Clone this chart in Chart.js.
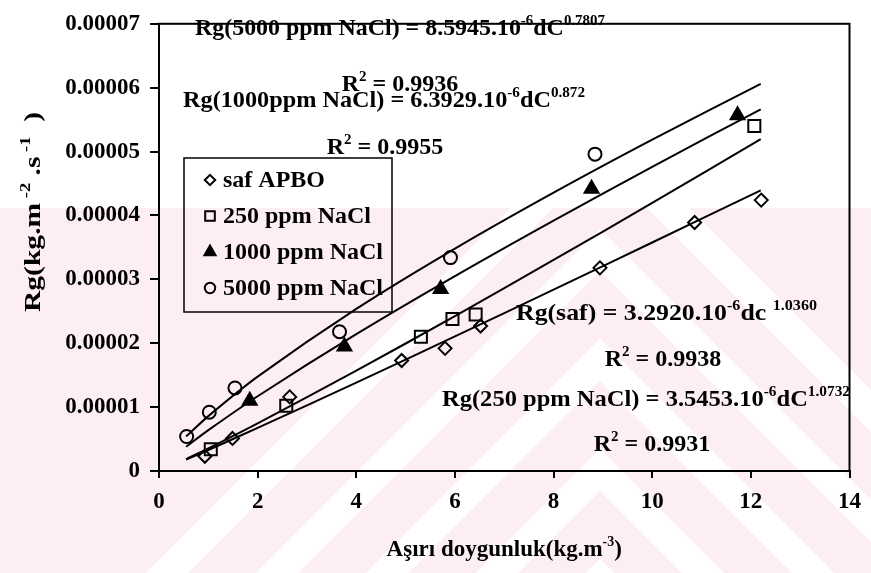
<!DOCTYPE html>
<html>
<head>
<meta charset="utf-8">
<script src="https://cdn.jsdelivr.net/npm/chart.js@4.4.1/dist/chart.umd.min.js"></script>
<style>
  html, body { margin: 0; padding: 0; background: #fff; }
  #wrap { width: 871px; height: 573px; position: relative; }
</style>
</head>
<body>
<div id="wrap"><canvas id="grafik"></canvas></div>
<script>
// olculen noktalar (okunan degerler)
const safX = [0.93, 1.49, 2.65, 4.92, 5.80, 6.52, 8.94, 10.86, 12.21];
const safY = [2.3e-6, 5.1e-6, 1.16e-5, 1.73e-5, 1.92e-5, 2.27e-5, 3.18e-5, 3.89e-5, 4.24e-5];
const p250X = [1.05, 2.58, 5.31, 5.95, 6.42, 12.07];
const p250Y = [3.4e-6, 1.02e-5, 2.10e-5, 2.38e-5, 2.45e-5, 5.40e-5];
const p1000X = [1.84, 3.76, 5.71, 8.77, 11.73];
const p1000Y = [1.10e-5, 1.95e-5, 2.85e-5, 4.42e-5, 5.57e-5];
const p5000X = [0.56, 1.02, 1.54, 3.66, 5.91, 8.84];
const p5000Y = [5.4e-6, 9.2e-6, 1.30e-5, 2.18e-5, 3.34e-5, 4.96e-5];

// egri uydurma cizgileri
const fitX = [0.55, 1, 2, 4, 6, 8, 10, 12.2];
const fit5000 = [5.39e-6, 8.59e-6, 1.477e-5, 2.537e-5, 3.481e-5, 4.357e-5, 5.187e-5, 6.06e-5];
const fit1000 = [3.80e-6, 6.39e-6, 1.170e-5, 2.141e-5, 3.050e-5, 3.919e-5, 4.761e-5, 5.662e-5];
const fit250 = [1.87e-6, 3.545e-6, 7.46e-6, 1.570e-5, 2.426e-5, 3.303e-5, 4.196e-5, 5.194e-5];
const fitSaf = [1.77e-6, 3.29e-6, 6.75e-6, 1.384e-5, 2.107e-5, 2.838e-5, 3.577e-5, 4.394e-5];

const xMin = 0, xMax = 14, xStep = 2;
const yMin = 0, yMax = 0.00007, yStep = 0.00001;

const legendLabels = ['saf APBO', '250 ppm NaCl', '1000 ppm NaCl', '5000 ppm NaCl'];

const serif = "'Liberation Serif', 'Times New Roman', serif";

const toPts = function(xs, ys) {
    return xs.map((x, i) => ({ x: x, y: ys[i] }));
};

// yazi: [metin, ust simge mi]
const eqTexts = [
    { segs: [['Rg(5000 ppm NaCl) = 8.5945.10'], ['-6', 1], ['dC'], ['0.7807', 1]], x: 195, y: 35, w: 410 },
    { segs: [['R'], ['2', 1], [' = 0.9936']], x: 400, y: 91, align: 'center' },
    { segs: [['Rg(1000ppm NaCl) = 6.3929.10'], ['-6', 1], ['dC'], ['0.872', 1]], x: 183, y: 107, w: 402 },
    { segs: [['R'], ['2', 1], [' = 0.9955']], x: 385, y: 154, align: 'center' },
    { segs: [['Rg(saf) = 3.2920.10'], ['-6', 1], ['dc '], ['1.0360', 1]], x: 516, y: 320, w: 301 },
    { segs: [['R'], ['2', 1], [' = 0.9938']], x: 663, y: 366, align: 'center' },
    { segs: [['Rg(250 ppm NaCl) = 3.5453.10'], ['-6', 1], ['dC'], ['1.0732', 1]], x: 442, y: 406, w: 408 },
    { segs: [['R'], ['2', 1], [' = 0.9931']], x: 652, y: 451, align: 'center' }
];

const drawRich = function(ctx, segs, x, y, size, opts) {
    opts = opts || {};
    const weight = opts.weight || 'bold';
    const big = weight + ' ' + size + 'px ' + serif;
    const small = weight + ' ' + Math.round(size * 0.62) + 'px ' + serif;
    let total = 0;
    segs.forEach(s => {
        ctx.font = s[1] ? small : big;
        total += ctx.measureText(s[0]).width;
    });
    let sx = 1;
    if (opts.w) sx = opts.w / total;
    let start = x;
    if (opts.align === 'center') start = x - total * sx / 2;
    ctx.save();
    ctx.translate(start, y);
    ctx.scale(sx, 1);
    ctx.fillStyle = '#000';
    ctx.textBaseline = 'alphabetic';
    ctx.textAlign = 'left';
    let cx = 0;
    segs.forEach(s => {
        ctx.font = s[1] ? small : big;
        ctx.fillText(s[0], cx, s[1] ? -size * 0.42 : 0);
        cx += ctx.measureText(s[0]).width;
    });
    ctx.restore();
};

const bgPlugin = {
    id: 'arkaPlan',
    beforeDraw(chart) {
        const ctx = chart.ctx;
        const W = chart.width, H = chart.height;
        ctx.save();
        ctx.fillStyle = '#fff';
        ctx.fillRect(0, 0, W, H);
        ctx.beginPath();
        ctx.rect(0, 208, W, H - 208);
        ctx.clip();
        ctx.fillStyle = '#fdeff1';
        ctx.fillRect(0, 0, W, H);
        ctx.strokeStyle = '#fff';
        ctx.lineWidth = 30;
        const apex = 600;
        [140, 250, 360, 470, 580, 690].forEach(y0 => {
            ctx.beginPath();
            ctx.moveTo(apex - 900, y0 + 900);
            ctx.lineTo(apex, y0);
            ctx.lineTo(apex + 900, y0 + 900);
            ctx.stroke();
        });
        ctx.restore();
    }
};

const extrasPlugin = {
    id: 'ekler',
    afterDraw(chart) {
        const ctx = chart.ctx;
        const a = chart.chartArea;
        ctx.save();
        // cerceve
        ctx.strokeStyle = '#000';
        ctx.lineWidth = 2;
        ctx.strokeRect(a.left, a.top, a.right - a.left, a.bottom - a.top);

        // denklemler
        eqTexts.forEach(e => drawRich(ctx, e.segs, e.x, e.y, 24, { w: e.w, align: e.align }));

        // lejant
        ctx.lineWidth = 1.5;
        ctx.strokeRect(184, 158, 208, 154);
        const rows = [180, 216, 252, 288];
        const ds = chart.data.datasets.slice(4);
        rows.forEach((ry, i) => {
            const d = ds[i];
            ctx.fillStyle = d.pointBackgroundColor;
            ctx.strokeStyle = '#000';
            ctx.lineWidth = 2;
            Chart.helpers.drawPoint(ctx, {
                pointStyle: d.pointStyle,
                radius: d.pointRadius * 0.8,
                borderWidth: 2,
                rotation: 0
            }, 210, ry);
            ctx.font = 'bold 24px ' + serif;
            ctx.fillStyle = '#000';
            ctx.textBaseline = 'middle';
            ctx.textAlign = 'left';
            ctx.fillText(legendLabels[i], 223, ry + 1);
        });

        // eksen basliklari
        drawRich(ctx, [['Aşırı doygunluk(kg.m'], ['-3', 1], [')']], (a.left + a.right) / 2, 556, 23, { align: 'center' });
        ctx.save();
        ctx.translate(40, 212);
        ctx.rotate(-Math.PI / 2);
        drawRich(ctx, [['Rg(kg.m'], [' -2', 1], [' .s'], [' -1', 1], ['  )']], -100, 0, 24, { w: 200 });
        ctx.restore();
        ctx.restore();
    }
};

const lineDs = function(ys) {
    return {
        type: 'line',
        data: toPts(fitX, ys),
        borderColor: '#000',
        borderWidth: 2,
        pointRadius: 0,
        fill: false,
        tension: 0.3,
        showLine: true
    };
};

const pointDs = function(label, xs, ys, style, radius, filled) {
    return {
        label: label,
        data: toPts(xs, ys),
        pointStyle: style,
        pointRadius: radius,
        pointBorderWidth: 2,
        borderColor: '#000',
        pointBorderColor: '#000',
        backgroundColor: filled ? '#000' : 'rgba(0,0,0,0)',
        pointBackgroundColor: filled ? '#000' : 'rgba(0,0,0,0)',
        showLine: false
    };
};

const tickFont = { family: serif, size: 23, weight: 'bold' };

new Chart(document.getElementById('grafik'), {
    type: 'scatter',
    data: {
        datasets: [
            lineDs(fit5000),
            lineDs(fit1000),
            lineDs(fit250),
            lineDs(fitSaf),
            pointDs(legendLabels[0], safX, safY, 'rectRot', 6.5, false),
            pointDs(legendLabels[1], p250X, p250Y, 'rect', 8.5, false),
            pointDs(legendLabels[2], p1000X, p1000Y, 'triangle', 8, true),
            pointDs(legendLabels[3], p5000X, p5000Y, 'circle', 6.5, false)
        ]
    },
    options: {
        responsive: true,
        maintainAspectRatio: false,
        animation: false,
        layout: { padding: { top: 18, right: 20, left: 0, bottom: 0 } },
        plugins: {
            legend: { display: false },
            tooltip: { enabled: false }
        },
        scales: {
            x: {
                type: 'linear',
                min: xMin,
                max: xMax,
                afterFit: s => { s.height = 102; },
                ticks: { stepSize: xStep, font: tickFont, color: '#000', padding: 10, maxRotation: 0 },
                grid: { drawOnChartArea: false, drawTicks: true, tickLength: 7, color: '#000', lineWidth: 2 },
                border: { display: true, color: '#000', width: 2 }
            },
            y: {
                type: 'linear',
                min: yMin,
                max: yMax,
                afterFit: s => { s.width = 159; },
                ticks: {
                    stepSize: yStep,
                    font: tickFont,
                    color: '#000',
                    padding: 10,
                    callback: v => (Math.abs(v) < 1e-12 ? '0' : v.toFixed(5))
                },
                grid: { drawOnChartArea: false, drawTicks: true, tickLength: 9, color: '#000', lineWidth: 2 },
                border: { display: true, color: '#000', width: 2 }
            }
        }
    },
    plugins: [bgPlugin, extrasPlugin]
});
</script>
</body>
</html>
